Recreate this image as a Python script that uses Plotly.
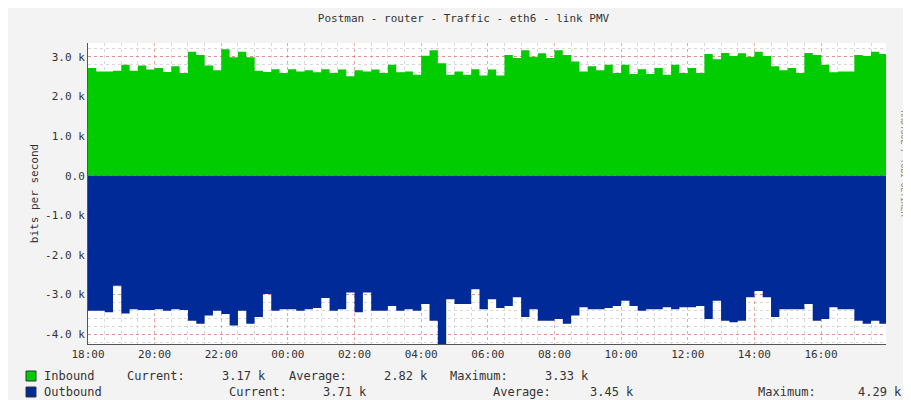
import pandas as pd
import plotly.graph_objects as go

# 15-minute samples from 18:00, values in k bits/s
inbound_k = [
    2.72, 2.63, 2.63, 2.65, 2.80, 2.65, 2.78, 2.68, 2.72, 2.62, 2.76, 2.59,
    3.13, 3.05, 2.78, 2.66, 3.19, 2.99, 3.13, 2.99, 2.65, 2.62, 2.69, 2.59,
    2.69, 2.63, 2.66, 2.61, 2.69, 2.59, 2.68, 2.51, 2.66, 2.63, 2.68, 2.59,
    2.80, 2.61, 2.63, 2.55, 3.03, 3.17, 2.84, 2.55, 2.63, 2.55, 2.69, 2.53,
    2.68, 2.53, 3.05, 2.97, 3.17, 3.00, 3.09, 2.97, 3.17, 3.05, 2.88, 2.63,
    2.76, 2.66, 2.80, 2.59, 2.80, 2.57, 2.69, 2.57, 2.72, 2.55, 2.80, 2.59,
    2.72, 2.59, 3.07, 2.94, 3.10, 3.02, 3.09, 3.00, 3.13, 3.02, 2.76, 2.66,
    2.72, 2.59, 3.10, 3.05, 2.80, 2.61, 2.63, 2.63, 3.05, 3.02, 3.13, 3.07,
]
outbound_k = [
    3.41, 3.41, 3.45, 2.78, 3.48, 3.37, 3.39, 3.39, 3.37, 3.41, 3.37, 3.39,
    3.66, 3.74, 3.53, 3.41, 3.49, 3.78, 3.41, 3.74, 3.57, 2.99, 3.41, 3.37,
    3.37, 3.41, 3.37, 3.34, 3.09, 3.41, 3.37, 2.95, 3.45, 2.95, 3.41, 3.41,
    3.29, 3.41, 3.37, 3.41, 3.24, 3.66, 4.29, 3.12, 3.24, 3.24, 2.87, 3.37,
    3.12, 3.34, 3.29, 3.07, 3.57, 3.37, 3.66, 3.66, 3.62, 3.74, 3.53, 3.32,
    3.37, 3.37, 3.34, 3.29, 3.16, 3.29, 3.41, 3.37, 3.37, 3.32, 3.37, 3.32,
    3.32, 3.29, 3.62, 3.16, 3.66, 3.70, 3.66, 3.07, 2.91, 3.07, 3.57, 3.37,
    3.37, 3.37, 3.24, 3.66, 3.62, 3.32, 3.37, 3.37, 3.66, 3.74, 3.66, 3.74,
]
times = list(pd.date_range("2024-01-01 18:00", periods=len(inbound_k), freq="15min"))
times.append(pd.Timestamp("2024-01-02 17:57"))
inbound = [v * 1000 for v in inbound_k] + [inbound_k[-1] * 1000]
outbound = [-v * 1000 for v in outbound_k] + [-outbound_k[-1] * 1000]

y_ticks = [-4000, -3000, -2000, -1000, 0, 1000, 2000, 3000]
y_labels = ["-4.0 k", "-3.0 k", "-2.0 k", "-1.0 k", "0.0", "1.0 k", "2.0 k", "3.0 k"]

GREEN = "#00CC00"
BLUE = "#002A97"
MONO = "DejaVu Sans Mono"

fig = go.Figure()
fig.add_trace(go.Scatter(x=times, y=inbound, mode="lines", line=dict(shape="hv", width=0, color=GREEN),
                         fill="tozeroy", fillcolor=GREEN, name="Inbound"))
fig.add_trace(go.Scatter(x=times, y=outbound, mode="lines", line=dict(shape="hv", width=0, color=BLUE),
                         fill="tozeroy", fillcolor=BLUE, name="Outbound"))

L, R, T, B = 80, 33, 35, 64
W, H = 911, 400
pw, ph = W - L - R, H - T - B


def px(x):
    return (x - L) / pw


def py(y):
    return (H - B - y) / ph


fig.update_layout(
    width=W, height=H, showlegend=False,
    margin=dict(l=L, r=R, t=T, b=B, autoexpand=False),
    paper_bgcolor="#f3f3f3", plot_bgcolor="white",
    font=dict(family=MONO, size=11, color="#333"),
    title=dict(text="Postman - router - Traffic - eth6 - link PMV", x=0.5, y=0.985, yanchor="top",
               font=dict(family=MONO, size=11, color="#333")),
    xaxis=dict(range=[pd.Timestamp("2024-01-01 18:00"), pd.Timestamp("2024-01-02 17:57")],
               tickformat="%H:%M", dtick=2 * 3600 * 1000, tick0="2024-01-01 18:00",
               showgrid=True, gridcolor="rgba(230,90,90,0.55)", griddash="dot", ticks="",
               minor=dict(dtick=1800 * 1000, showgrid=True, gridcolor="#d8d8d8", griddash="dot"),
               showline=True, linecolor="#555", layer="above traces", zeroline=False, automargin=False),
    yaxis=dict(range=[-4250, 3350], tickvals=y_ticks, ticktext=y_labels,
               showgrid=True, gridcolor="rgba(230,90,90,0.55)", griddash="dot", zeroline=False,
               minor=dict(dtick=200, showgrid=True, gridcolor="#d8d8d8", griddash="dot"),
               showline=True, linecolor="#555", layer="above traces", automargin=False,
               title=dict(text="bits per second", standoff=4, font=dict(size=11))),
)

ann = [
    (34, 368, "Inbound"), (117, 368, "Current:"), (212, 368, "3.17 k"), (279, 368, "Average:"),
    (374, 368, "2.82 k"), (440, 368, "Maximum:"), (535, 368, "3.33 k"),
    (34, 384, "Outbound"), (219, 384, "Current:"), (313, 384, "3.71 k"), (483, 384, "Average:"),
    (580, 384, "3.45 k"), (748, 384, "Maximum:"), (848, 384, "4.29 k"),
]
for x, y, t in ann:
    fig.add_annotation(x=px(x), y=py(y), xref="paper", yref="paper", text=t, showarrow=False,
                       xanchor="left", yanchor="middle", font=dict(family=MONO, size=12, color="#333"))

for y, c in [(368, GREEN), (384, BLUE)]:
    fig.add_shape(type="rect", xref="paper", yref="paper", x0=px(18), x1=px(28), y0=py(y + 5), y1=py(y - 5),
                  fillcolor=c, line=dict(color="#333", width=1))

fig.add_annotation(x=px(902), y=py(100), xref="paper", yref="paper", text="RRDTOOL / TOBI OETIKER",
                   textangle=90, showarrow=False, font=dict(family=MONO, size=8, color="#888"))

fig.write_html("out.html")
